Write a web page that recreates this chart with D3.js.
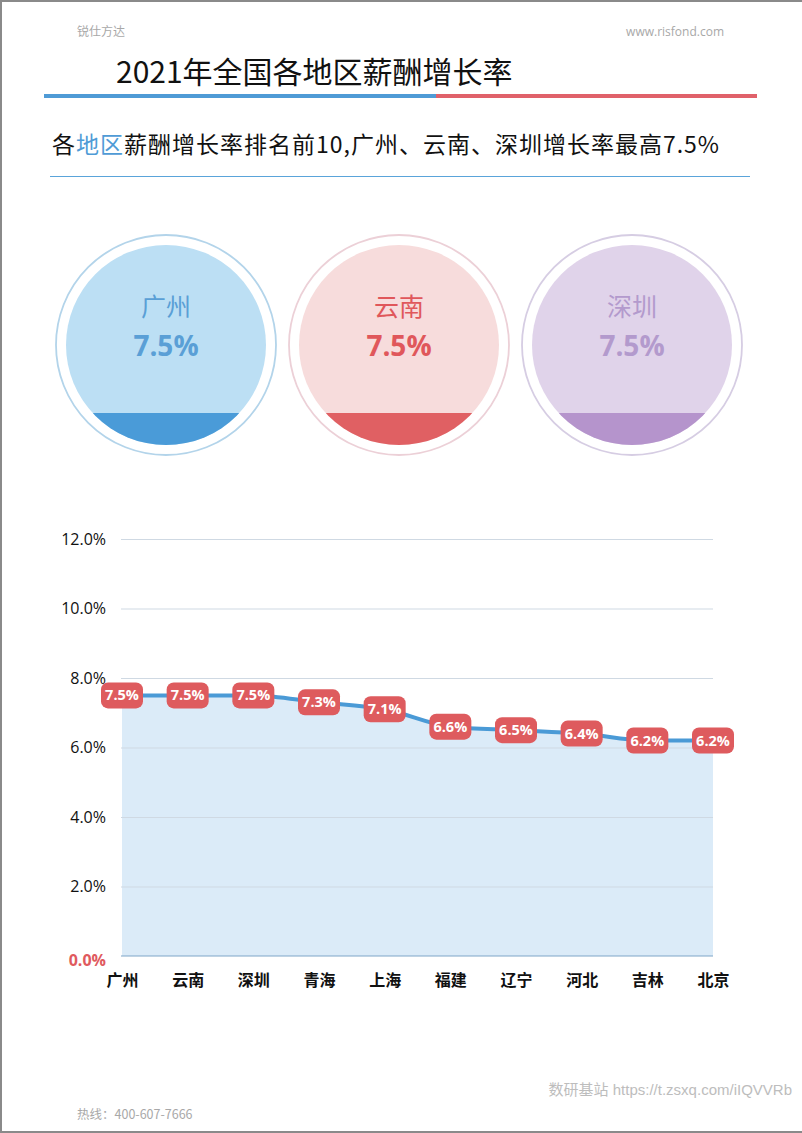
<!DOCTYPE html>
<html>
<head>
<meta charset="utf-8">
<script src="https://cdn.jsdelivr.net/npm/d3@7"></script>
<style>
  body { margin: 0; background: #fff; }
  svg { display: block; font-family: "Noto Sans CJK SC", "Open Sans", sans-serif; }
</style>
</head>
<body>
<div id="page"></div>
<script>
// data
var regions = ["广州", "云南", "深圳", "青海", "上海", "福建", "辽宁", "河北", "吉林", "北京"];
var rates = [7.5, 7.5, 7.5, 7.3, 7.1, 6.6, 6.5, 6.4, 6.2, 6.2];
var yTicks = [0, 2, 4, 6, 8, 10, 12];
var topCities = ["广州", "云南", "深圳"];
var topRates = [7.5, 7.5, 7.5];
var topColors = ["#4a9bd8", "#e06063", "#b594cc"];
var topLight = ["#bcdff4", "#f7dcdc", "#e0d3ea"];
var topText = ["#5a9fd6", "#e0575b", "#b39acd"];
var topRing = ["#b3d4ea", "#ecd0d7", "#d6cde3"];

var W = 802, H = 1133;
var svg = d3.select("#page").append("svg").attr("width", W).attr("height", H);

// page frame (top, left, bottom)
svg.append("path")
  .attr("d", "M" + W + ",1 H1 V" + (H - 1) + " H" + W)
  .attr("fill", "none").attr("stroke", "#8a8a8a").attr("stroke-width", 2);

// header
svg.append("text").attr("x", 77).attr("y", 36).attr("font-size", 12).attr("fill", "#a8a8a8").text("锐仕方达");
svg.append("text").attr("x", 724).attr("y", 36).attr("text-anchor", "end").attr("font-size", 12)
  .attr("fill", "#a8a8a8").attr("font-family", "Open Sans, sans-serif").text("www.risfond.com");

svg.append("text").attr("x", 116).attr("y", 83).attr("font-size", 30).attr("fill", "#111")
  .text("2021年全国各地区薪酬增长率");
svg.append("rect").attr("x", 44).attr("y", 94).attr("width", 392).attr("height", 4).attr("fill", "#4f9bd6");
svg.append("rect").attr("x", 436).attr("y", 94).attr("width", 321).attr("height", 4).attr("fill", "#e0616a");

// subtitle
var sub = svg.append("text").attr("x", 52).attr("y", 153).attr("font-size", 23)
  .attr("letter-spacing", 1).attr("fill", "#111");
sub.append("tspan").text("各");
sub.append("tspan").attr("fill", "#4f9bd6").text("地区");
sub.append("tspan").text("薪酬增长率排名前10,广州、云南、深圳增长率最高7.5%");
svg.append("line").attr("x1", 50).attr("x2", 750).attr("y1", 176.5).attr("y2", 176.5)
  .attr("stroke", "#5aa4da").attr("stroke-width", 1.2);

// three top circles
var cx = d3.scalePoint().domain(topCities).range([166, 632]);
var cy = 345, rOuter = 110, rInner = 100, cutY = 413;
var defs = svg.append("defs");
topCities.forEach(function(c, i) {
  var x = cx(c);
  defs.append("clipPath").attr("id", "clip" + i)
    .append("circle").attr("cx", x).attr("cy", cy).attr("r", rInner);
  svg.append("circle").attr("cx", x).attr("cy", cy).attr("r", rOuter)
    .attr("fill", "#fff").attr("stroke", topRing[i]).attr("stroke-width", 1.8);
  svg.append("circle").attr("cx", x).attr("cy", cy).attr("r", rInner).attr("fill", topLight[i]);
  svg.append("rect").attr("clip-path", "url(#clip" + i + ")")
    .attr("x", x - rInner).attr("y", cutY).attr("width", rInner * 2).attr("height", cy + rInner - cutY)
    .attr("fill", topColors[i]);
  svg.append("text").attr("x", x).attr("y", 316).attr("text-anchor", "middle")
    .attr("font-size", 25).attr("fill", topText[i]).text(c);
  svg.append("text").attr("x", x).attr("y", 356).attr("text-anchor", "middle")
    .attr("font-size", 28).attr("font-weight", "bold").attr("font-family", "Open Sans, sans-serif")
    .attr("fill", topText[i]).text(topRates[i].toFixed(1) + "%");
});

// line chart
var x = d3.scalePoint().domain(regions).range([122, 713]);
var y = d3.scaleLinear().domain([0, 12]).range([956, 539]);

var area = d3.area()
  .x(function(d, i) { return x(regions[i]); })
  .y0(y(0))
  .y1(function(d) { return y(d); })
  .curve(d3.curveMonotoneX);
svg.append("path").datum(rates).attr("d", area).attr("fill", "#dbebf8");

var grid = svg.append("g");
grid.selectAll("line").data(yTicks.filter(function(d) { return d > 0; })).enter().append("line")
  .attr("x1", 121).attr("x2", 713)
  .attr("y1", function(d) { return y(d) + 0.5; }).attr("y2", function(d) { return y(d) + 0.5; })
  .attr("stroke", "#cfd9e3").attr("stroke-width", 1);

svg.append("line").attr("x1", 121).attr("x2", 713).attr("y1", y(0)).attr("y2", y(0))
  .attr("stroke", "#7ea6c8").attr("stroke-width", 1.2);

var line = d3.line()
  .x(function(d, i) { return x(regions[i]); })
  .y(function(d) { return y(d); })
  .curve(d3.curveMonotoneX);
svg.append("path").datum(rates).attr("d", line).attr("fill", "none")
  .attr("stroke", "#4a9ad6").attr("stroke-width", 4);

// y axis
var yAxis = svg.append("g").attr("transform", "translate(106,0)")
  .call(d3.axisLeft(y).tickValues(yTicks).tickSize(0).tickPadding(0)
    .tickFormat(function(d) { return d.toFixed(1) + "%"; }));
yAxis.select(".domain").remove();
yAxis.selectAll("text").attr("font-size", 16).attr("fill", "#111")
  .attr("font-family", "Open Sans, sans-serif")
  .attr("dy", "0.32em");
yAxis.selectAll(".tick").filter(function(d) { return d === 0; }).select("text")
  .attr("fill", "#e05a5e").attr("font-weight", "bold").attr("transform", "translate(0,4)");

// x axis
var xAxis = svg.append("g").attr("transform", "translate(0,975)")
  .call(d3.axisBottom(x).tickSize(0).tickPadding(0));
xAxis.select(".domain").remove();
xAxis.selectAll("text").attr("font-size", 16).attr("font-weight", "bold").attr("fill", "#111")
  .attr("font-family", "Noto Sans CJK SC, sans-serif");

// value labels
var labels = svg.append("g").selectAll("g").data(rates).enter().append("g")
  .attr("transform", function(d, i) { return "translate(" + x(regions[i]) + "," + y(d) + ")"; });
labels.append("rect").attr("x", -21).attr("y", -13).attr("width", 42).attr("height", 26)
  .attr("rx", 7).attr("fill", "#de5b5e");
labels.append("text").attr("text-anchor", "middle").attr("dy", "0.35em")
  .attr("font-size", 14.5).attr("font-weight", "bold").attr("fill", "#fff")
  .attr("font-family", "Open Sans, sans-serif")
  .text(function(d) { return d.toFixed(1) + "%"; });

// footer
svg.append("text").attr("x", 792).attr("y", 1095).attr("text-anchor", "end").attr("font-size", 15)
  .attr("fill", "#bdbdbd").attr("font-family", "Liberation Sans, Noto Sans CJK SC, sans-serif")
  .text("数研基站 https://t.zsxq.com/iIQVVRb");
svg.append("text").attr("x", 77).attr("y", 1119).attr("font-size", 12.5).attr("fill", "#a8a8a8")
  .text("热线：400-607-7666");
</script>
</body>
</html>
